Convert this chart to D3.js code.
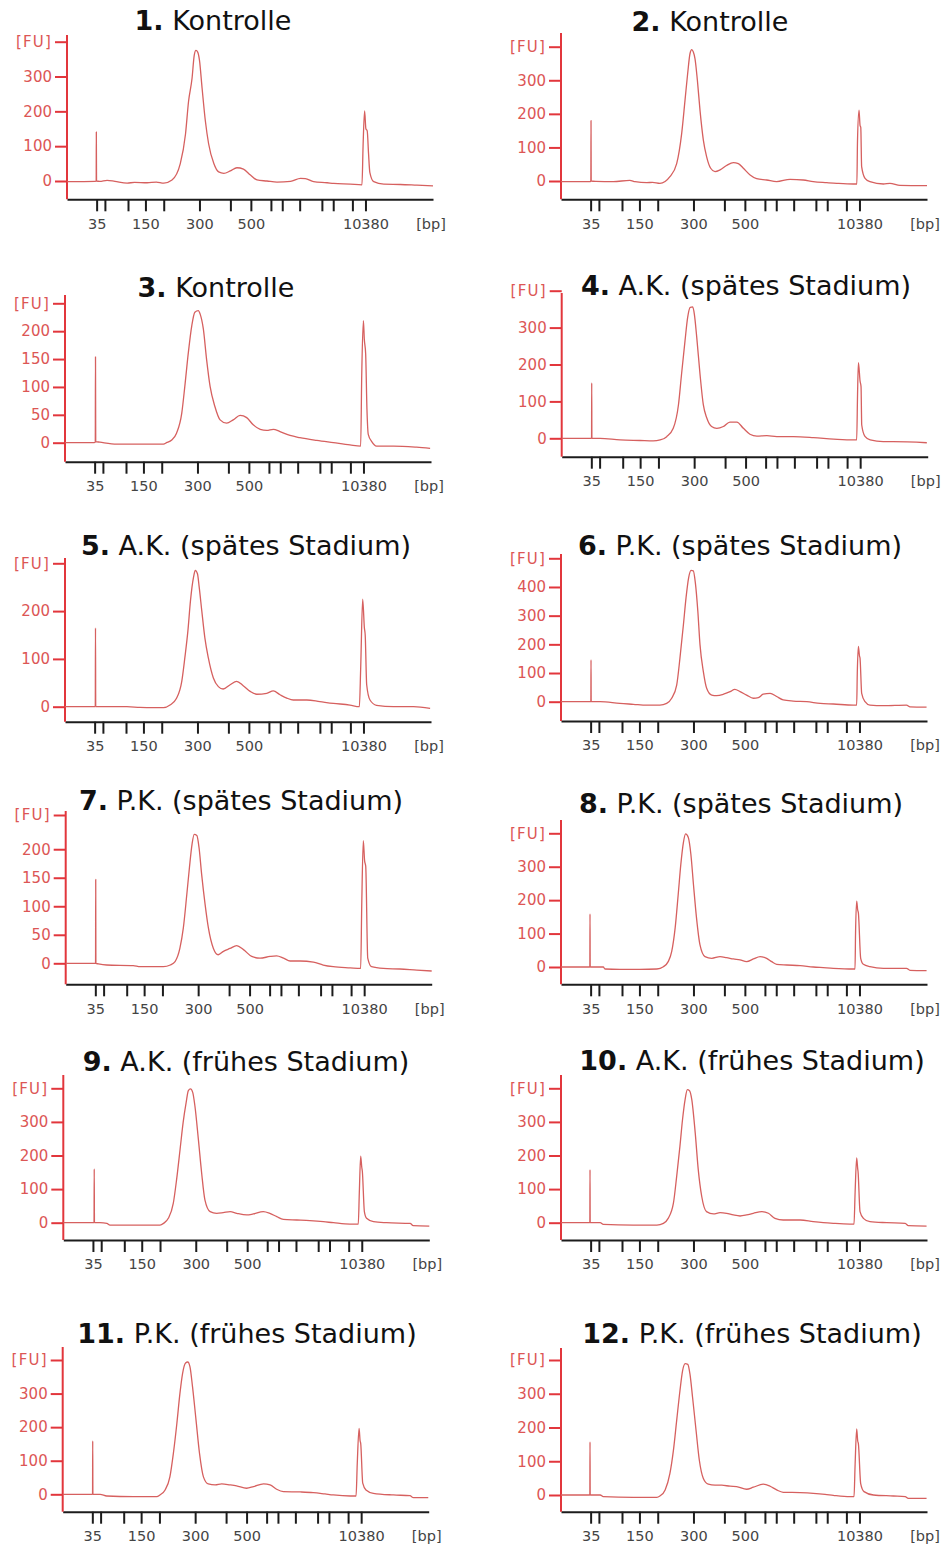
<!DOCTYPE html>
<html><head><meta charset="utf-8">
<script src="https://cdn.jsdelivr.net/npm/d3@7"></script>
<style>body{margin:0;background:#fff}svg{display:block}</style>
</head><body><svg id="c" width="948" height="1548"></svg>
<script>
// ---------- DATA ----------
const ladderSizes = [35,50,100,150,200,300,400,500,600,700,1000,2000,3000,7000,10380];
const ladderTimes = [46.8,48.7,54.0,58.0,62.2,70.4,77.5,82.2,86.8,89.4,93.4,98.5,101.1,105.5,108.5];
const labeledSizes = [35,150,300,500,10380];
const titleNumbers = ["1.","2.","3.","4.","5.","6.","7.","8.","9.","10.","11.","12."];
const titleTexts = ["Kontrolle","Kontrolle","Kontrolle","A.K. (spätes Stadium)","A.K. (spätes Stadium)","P.K. (spätes Stadium)","P.K. (spätes Stadium)","P.K. (spätes Stadium)","A.K. (frühes Stadium)","A.K. (frühes Stadium)","P.K. (frühes Stadium)","P.K. (frühes Stadium)"];
const yMaxValues = [400,400,250,400,300,500,260,400,400,400,400,400];
const yTickValues = [[0,100,200,300],[0,100,200,300],[0,50,100,150,200],[0,100,200,300],[0,100,200],[0,100,200,300,400],[0,50,100,150,200],[0,100,200,300],[0,100,200,300],[0,100,200,300],[0,100,200,300],[0,100,200,300]];

const trace1 = [[40,-2],[46.5,-1],[46.7,0],[46.73,141],[46.78,0],[47.5,-1],[49.2,2],[51,-1],[53.8,-6],[55.5,-4],[58.4,-5],[60.5,-3],[62.2,-6],[64.1,3],[66.0,50],[67.2,135],[67.9,229],[68.7,295],[69.2,361],[69.6,375],[70.0,370],[70.4,347],[71.0,267],[71.75,173],[72.5,107],[73.7,50],[74.8,26],[76.0,22],[77.5,29],[79.0,38],[80.5,34],[82.1,17],[83.6,3],[85.9,0],[88.2,-3],[91.3,-1],[93.6,7.5],[94.7,7],[96.6,-2],[99.7,-5],[101.2,-7],[105.0,-9],[107.7,-11],[107.95,100],[108.3,201],[108.6,150],[108.9,144],[109.2,80],[109.5,25],[110.4,-2],[112.7,-9],[116.5,-10],[120.3,-12],[124,-14]];
const trace2 = [[40,-2],[46.6,-2],[46.85,0],[46.89,180],[46.93,0],[48,-1],[52,-2],[55.8,2],[57,-2],[59.7,-5],[61,-4],[62.7,-7],[65.0,13],[66.55,52],[67.7,142],[68.46,240],[69.07,320],[69.6,379],[70.0,391],[70.37,384],[70.76,364],[71.3,300],[71.9,211],[72.67,122],[73.43,72],[74.35,38],[75.35,28],[76.5,33],[78.0,46],[79.56,55],[80.7,52],[81.85,38],[83.4,18],[84.9,7],[87.2,3],[89.5,-2],[92.56,5],[95.6,3],[97.9,-2],[101,-5],[103.3,-7],[107.1,-9],[107.9,-9],[108.05,120],[108.4,211],[108.63,166],[108.8,160],[109.0,43],[109.78,8],[110.9,-2],[114,-9],[115.5,-7],[117.8,-13],[124,-14]];
const trace3 = [[40,0],[46.7,0],[46.95,1],[47.0,154],[47.05,2],[48.0,1],[51.9,-2.4],[55.7,-2.5],[62.6,-2.4],[63.3,0],[64.5,5],[65.6,17],[66.8,53],[67.5,101],[68.3,161],[69.1,210],[69.8,234],[70.6,237],[71.0,231],[71.75,204],[72.5,149],[73.3,101],[74.4,65],[75.6,41],[77.1,35],[78.6,41],[80.2,49],[81.7,45],[83.2,32],[84.8,24],[86.3,22],[87.8,24],[89.35,20],[91.65,13],[93.9,9],[97.8,4],[101.6,0],[105.4,-4],[107.86,-6],[108.1,120],[108.48,219],[108.7,185],[109.0,160],[109.3,60],[109.6,15],[110.4,2],[111.5,-6],[115.4,-6],[120.7,-8],[123.8,-10]];
const trace4 = [[40,0],[46.6,0],[46.85,0],[46.89,150],[46.93,0],[48.8,0],[53.4,-4.5],[58,-6],[61,-7],[62.6,-4.5],[64.1,4.5],[65.6,27],[66.8,91],[67.5,173],[68.3,264],[68.9,327],[69.5,355],[70.07,356],[70.45,336],[71.0,273],[71.75,173],[72.5,91],[73.3,55],[74.4,32],[75.6,27],[77.1,32],[78.6,44],[80.2,44],[81.7,27],[83.2,11],[84.8,6],[87.1,7],[89.35,4.5],[93.2,4.5],[97.8,2],[102.4,-2],[107,-4.5],[107.7,-4.5],[107.9,120],[108.1,205],[108.48,155],[108.7,140],[108.86,36],[109.6,5],[110.8,-4.5],[113.8,-9],[116.1,-9],[123.8,-12]];
const trace5 = [[40,0],[46.7,0],[46.95,0],[47.0,165],[47.05,0],[48,0],[54.2,0],[57.2,-1.5],[60.3,-2],[62.6,-2],[64.1,3.5],[65.6,17.6],[66.8,53],[67.5,102],[68.2,158],[68.8,222],[69.5,271],[69.9,285],[70.4,278],[70.8,250],[71.4,200],[72.1,144],[72.9,102],[74.05,60],[75.2,42],[76.3,37],[77.9,46],[79.4,53],[80.9,44],[82.5,32],[84.0,26],[86.3,28],[87.8,33],[89.35,25],[90.9,18],[92.4,14],[95.5,14],[98.5,10.6],[101.6,7],[105.4,3.5],[107.56,0],[107.86,80],[108.32,225],[108.71,165],[108.9,150],[109.24,46],[110.0,14],[111.5,3],[115.4,0],[120,0],[123.8,-3.5]];
const trace6 = [[40,0],[46.6,0],[46.85,0],[46.89,146],[46.93,0],[49,0],[53.5,-6],[56.6,-9],[59.7,-12],[62.7,-12],[64.25,-6],[65.4,12],[66.55,58],[67.3,152],[68.1,269],[68.7,363],[69.3,433],[69.84,458],[70.37,456],[70.83,415],[71.4,316],[71.9,199],[72.67,105],[73.43,47],[74.6,23],[75.7,21],[77.3,26],[78.8,35],[79.9,43],[81.1,35],[82.6,23],[84.15,12],[85.3,14],[86.4,26],[88.0,29],[89.5,18],[91.0,6],[93.3,2],[96.4,0],[99.5,-6],[102.5,-8],[107.1,-12],[107.86,-12],[108.0,100],[108.25,193],[108.5,160],[108.63,152],[109.01,29],[109.78,0],[110.9,-12],[114,-14],[119.3,-12],[120.1,-18],[123.9,-19]];
const trace7 = [[40,0],[46.6,0],[46.85,0],[46.89,147],[46.93,0],[47.5,-1],[49.4,-3],[55.5,-4],[57.1,-6],[60.1,-6],[62.4,-6],[64.0,-3],[65.1,3],[66.2,26],[67.0,62],[67.8,121],[68.4,168],[69.0,209],[69.5,226],[70.1,224],[70.6,203],[71.2,156],[72.0,103],[72.75,62],[73.9,26],[75.0,15],[76.2,21],[77.7,26],[79.25,31],[80.8,24],[82.7,12],[84.6,9],[86.9,12],[88.4,13],[90.0,9],[91.5,4],[93.8,4],[96.85,2],[99.1,-3],[101.4,-6],[105.3,-8],[107.7,-9],[107.94,100],[108.3,215],[108.6,180],[108.86,170],[109.32,9],[110.2,-6],[112.9,-9],[116.7,-10],[120.6,-12],[124,-13.5]];
const trace8 = [[40,0],[46.6,0],[46.62,0],[46.66,159],[46.7,0],[47.4,0],[49.7,0],[50.1,-6],[53.5,-7],[58.1,-7],[62.0,-6],[63.5,1],[64.6,16],[65.4,46],[66.2,117],[66.9,217],[67.5,307],[68.1,373],[68.6,398],[69.2,388],[69.8,338],[70.4,247],[71.1,147],[71.9,66],[73.05,31],[74.6,26],[76.5,31],[78.0,28],[79.56,24],[81.1,21],[82.6,16],[84.15,24],[85.7,31],[87.2,26],[88.35,16],[89.5,8],[91.8,6],[94.9,4],[97.9,0],[100.2,-2],[102.5,-4],[107.1,-6],[107.48,-6],[107.6,100],[107.86,197],[108.1,170],[108.25,162],[108.78,26],[109.4,8],[110.9,1],[114,-4],[119.3,-4],[120.1,-10],[123.9,-11]];
const trace9 = [[40,0],[46.8,0],[47.05,0],[47.1,160],[47.15,0],[48.4,0],[50.0,-2],[50.7,-7],[56.1,-7],[62.2,-7],[63.0,-2],[64.1,13],[65.25,58],[66.0,128],[66.8,218],[67.5,298],[68.2,358],[68.7,393],[69.2,398],[69.7,388],[70.2,348],[71.0,248],[71.75,148],[72.5,68],[73.7,33],[75.2,28],[76.7,30],[78.3,33],[79.8,28],[82.1,23],[83.6,26],[85.9,33],[87.4,28],[89.0,18],[90.5,10],[93.6,8],[96.6,6],[99.7,3],[102,0],[105.8,-4],[107.7,-4],[107.94,90],[108.25,198],[108.5,165],[108.63,153],[109.1,33],[109.6,13],[111.2,3],[114.2,0],[119.6,-2],[120.3,-9],[124,-10]];
const trace10 = [[40,0],[46.6,0],[46.62,0],[46.66,158],[46.7,0],[49.0,0],[49.7,-5],[56.6,-7],[62.0,-7],[63.5,-2],[64.6,13],[65.8,58],[66.55,138],[67.3,228],[67.9,308],[68.5,368],[69.0,396],[69.5,393],[70.0,368],[70.8,268],[71.5,158],[72.3,78],[73.4,33],[75.0,26],[76.5,30],[78.0,28],[79.56,23],[81.1,20],[82.6,23],[84.15,28],[86.1,33],[87.6,28],[89.1,13],[91.0,8],[94.9,8],[97.9,3],[100.2,0],[102.5,-2],[106.3,-4],[107.25,-4],[107.5,90],[107.86,193],[108.1,160],[108.17,153],[108.63,33],[109.4,13],[110.9,3],[114.75,0],[119.0,-2],[119.7,-9],[123.9,-10]];
const trace11 = [[40,0],[46.6,0],[46.85,0],[46.89,159],[46.93,0],[48.6,0],[50.1,-5],[56.2,-7],[61.6,-7],[62.3,-2],[63.5,13],[64.6,52],[65.4,122],[66.2,211],[66.9,300],[67.5,359],[68.2,391],[68.7,394],[69.2,380],[69.8,320],[70.6,221],[71.4,122],[72.3,52],[73.4,31],[75.0,28],[76.5,31],[78.4,28],[79.9,25],[82.2,18],[83.8,23],[86.1,31],[87.6,28],[89.1,15],[90.65,8],[94.5,7],[97.5,5],[100.2,1],[102.1,-2],[106,-5],[107.33,-5],[107.6,90],[108.02,196],[108.25,160],[108.4,151],[108.86,33],[109.6,13],[111.3,3],[115.9,-2],[119.7,-4],[120.5,-10],[123.9,-10]];
const trace12 = [[40,0],[46.6,0],[46.62,0],[46.66,157],[46.7,0],[49.0,0],[49.7,-5],[56.6,-7],[62.0,-7],[62.7,-3],[63.9,15],[65.0,64],[65.8,132],[66.55,221],[67.3,309],[67.9,368],[68.5,389],[69.1,387],[69.6,358],[70.2,289],[71.0,191],[71.75,103],[72.67,49],[73.8,32],[75.35,29],[76.9,29],[78.8,26],[80.3,25],[82.6,17],[84.15,23],[86.4,32],[88.0,26],[89.5,15],[91.0,8],[94.9,7],[97.9,5],[100.6,2],[102.5,-1],[106.3,-5],[107.25,-5],[107.5,90],[107.86,196],[108.1,160],[108.25,152],[108.78,34],[109.55,10],[111.7,0],[116.3,-3],[119.0,-5],[119.7,-10],[123.9,-10]];
const traces = [trace1,trace2,trace3,trace4,trace5,trace6,trace7,trace8,trace9,trace10,trace11,trace12];
const timeDomain = [40,124];

// ---------- LAYOUT ----------
const layout = [
  {ax:67,   xa:199.3, z:181,   top:41.7,  at:35,  tx:213, ty:30},
  {ax:561,  xa:199.3, z:181,   top:46.7,  at:33,  tx:710, ty:31},
  {ax:65,   xa:461.7, z:442.7, top:303.3, at:295, tx:216, ty:297},
  {ax:561.7,xa:456.7, z:438.3, top:290.7, at:293, tx:746, ty:295},
  {ax:65,   xa:721.7, z:706.7, top:563.3, at:558, tx:246, ty:555},
  {ax:561,  xa:721,   z:701.7, top:558.3, at:554, tx:740, ty:555},
  {ax:65.7, xa:984.3, z:963.3, top:815,   at:811, tx:241, ty:810},
  {ax:561,  xa:984.3, z:967,   top:833.3, at:820, tx:741, ty:813},
  {ax:63.3, xa:1240,  z:1222.7,top:1088.3,at:1075,tx:246, ty:1071},
  {ax:561,  xa:1240,  z:1222.7,top:1088.3,at:1075,tx:752, ty:1070},
  {ax:62.7, xa:1511.7,z:1494.3,top:1360,  at:1347,tx:247, ty:1343},
  {ax:561,  xa:1511.7,z:1495,  top:1360,  at:1348,tx:752, ty:1343}
];
const plotW = 366;
const FONT = "DejaVu Sans, Verdana, sans-serif";
const RED_AXIS = "#e2363c", RED_TEXT = "#dc5655", TRACE = "#d6605f";

const svg = d3.select("#c");
svg.append("rect").attr("width",948).attr("height",1548).attr("fill","#fff");

traces.forEach((tr, i) => {
  const L = layout[i];
  const g = svg.append("g");
  const x = d3.scaleLinear().domain(timeDomain).range([L.ax, L.ax + plotW]);
  const y = d3.scaleLinear().domain([0, yMaxValues[i]]).range([L.z, L.top]);

  // title
  const t = g.append("text").attr("x", L.tx).attr("y", L.ty)
    .attr("text-anchor","middle").attr("font-family",FONT).attr("font-size",27).attr("fill","#111");
  t.append("tspan").attr("font-weight","bold").text(titleNumbers[i]);
  t.append("tspan").text(" " + titleTexts[i]);

  // x axis
  const xAxis = d3.axisBottom(x).tickValues(ladderTimes).tickSize(12).tickSizeOuter(0).tickPadding(7)
    .tickFormat((d, k) => labeledSizes.includes(ladderSizes[k]) ? ladderSizes[k] : "");
  const gx = g.append("g").attr("transform", `translate(0,${L.xa})`).call(xAxis);
  gx.select(".domain").attr("stroke","#1c1c1c").attr("stroke-width",2);
  gx.selectAll(".tick line").attr("stroke","#1c1c1c").attr("stroke-width",2);
  gx.selectAll(".tick text").attr("font-family",FONT).attr("font-size",14.5).attr("fill","#444");
  g.append("text").attr("x", L.ax + plotW - 2).attr("y", L.xa + 19).attr("dy","0.71em")
    .attr("text-anchor","middle").attr("font-family",FONT).attr("font-size",14.5).attr("fill","#444").text("[bp]");

  // y axis
  const yAxis = d3.axisLeft(y).tickValues(yTickValues[i].concat([yMaxValues[i]])).tickSize(12).tickPadding(3)
    .tickFormat(d => d === yMaxValues[i] ? "[FU]" : d);
  const gy = g.append("g").attr("transform", `translate(${L.ax},0)`).call(yAxis);
  gy.select(".domain").remove();
  gy.selectAll(".tick line").attr("stroke",RED_AXIS).attr("stroke-width",2);
  gy.selectAll(".tick text").attr("font-family",FONT).attr("font-size",15).attr("fill",RED_TEXT)
    .filter(d => d === yMaxValues[i]).attr("letter-spacing",1.2);
  g.append("line").attr("x1",L.ax).attr("x2",L.ax).attr("y1",L.at).attr("y2",L.xa)
    .attr("stroke",RED_AXIS).attr("stroke-width",2);

  // trace
  const line = d3.line().x(d => x(d[0])).y(d => y(d[1])).curve(d3.curveMonotoneX);
  g.append("path").datum(tr).attr("d", line).attr("fill","none")
    .attr("stroke",TRACE).attr("stroke-width",1.3).attr("stroke-linejoin","round");
});
</script></body></html>
